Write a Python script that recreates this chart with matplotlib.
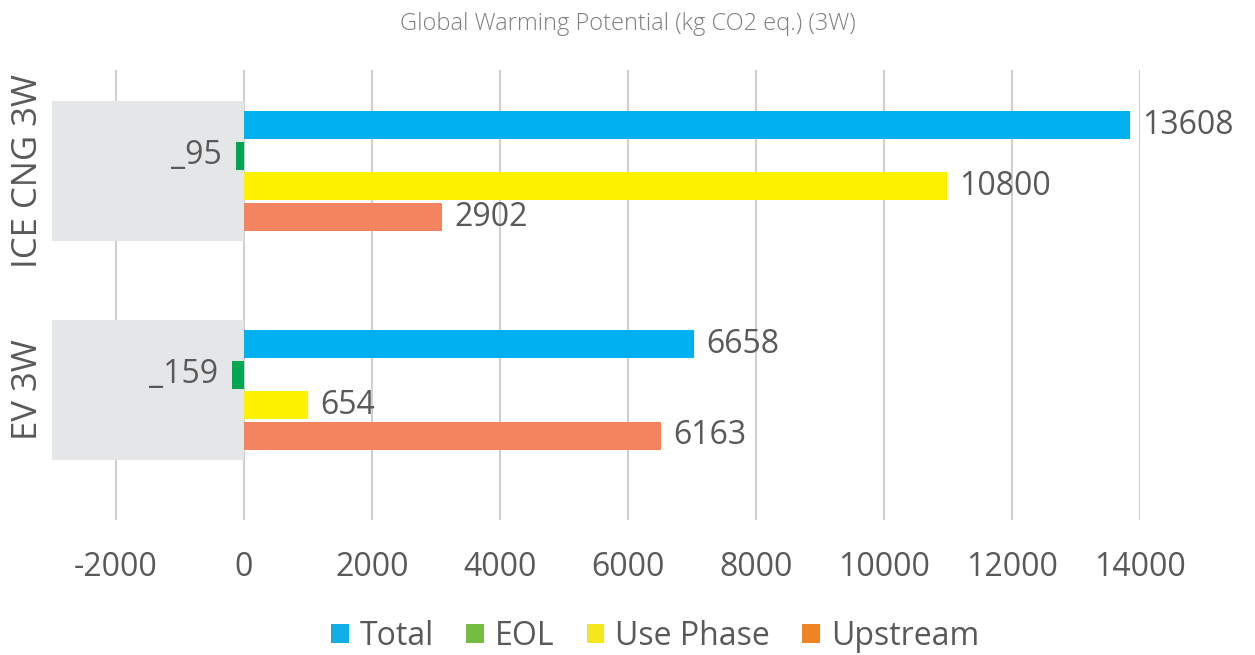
import numpy as np
import matplotlib.pyplot as plt
from matplotlib.patches import Patch

plt.rcParams['font.family'] = ['Open Sans', 'DejaVu Sans']
plt.rcParams['axes.unicode_minus'] = False

categories = ["ICE CNG 3W", "EV 3W"]
series = ["Total", "EOL", "Use Phase", "Upstream"]
# bar lengths as drawn in the picture
total = [13844, 7031]
eol = [-125, -187]
use_phase = [10984, 1000]
upstream = [3094, 6516]
# data labels as printed
total_lbl = ["13608", "6658"]
eol_lbl = ["_95", "_159"]
use_lbl = ["10800", "654"]
up_lbl = ["2902", "6163"]

bar_colors = ["#00B0F0", "#00A651", "#FFF200", "#F4845F"]
legend_colors = ["#10ADE6", "#74BC42", "#F2E81A", "#EE8422"]
txt = "#595959"

fig = plt.figure(figsize=(12.55, 6.55), dpi=100)
ax = fig.add_axes([0.0414, 0.206, 0.8669, 0.687])

y = np.arange(len(categories))
step = 0.14
h = 0.128

# grey band behind the category area
ax.barh(y, 3000, left=-3000, height=0.64, color="#E5E6E8", zorder=1)

vals = [total, eol, use_phase, upstream]
lbls = [total_lbl, eol_lbl, use_lbl, up_lbl]
for i, (v, l) in enumerate(zip(vals, lbls)):
    pos = y + (i - 1.5) * step
    ax.barh(pos, v, height=h, color=bar_colors[i], zorder=3)
    for p, val, s in zip(pos, v, l):
        if val < 0:
            ax.annotate(s, (val, p), xytext=(-10, 0), textcoords="offset points",
                        ha="right", va="center", fontsize=23, color=txt, zorder=4)
        else:
            ax.annotate(s, (val, p), xytext=(9, 0), textcoords="offset points",
                        ha="left", va="center", fontsize=23, color=txt, zorder=4)

ax.set_xlim(-3000, 14000)
ax.set_ylim(1.594, -0.461)
ax.set_xticks(np.arange(-2000, 14001, 2000))
ax.xaxis.grid(True, color="#D0D0D0", linewidth=1.5, zorder=0)
ax.set_axisbelow(True)
ax.set_yticks(y)
ax.set_yticklabels(categories, rotation=90, va="center", fontsize=25, color=txt)
ax.tick_params(axis="x", length=0, labelsize=23, labelcolor=txt, pad=22)
ax.tick_params(axis="y", length=0, pad=5)
for sp in ax.spines.values():
    sp.set_visible(False)

fig.suptitle("Global Warming Potential (kg CO2 eq.) (3W)", y=0.982, fontsize=17,
             color="#7F7F7F", fontweight="light")

handles = [Patch(facecolor=c, label=s) for c, s in zip(legend_colors, series)]
fig.legend(handles=handles, loc="center", bbox_to_anchor=(0.522, 0.029), ncol=4,
           frameon=False, fontsize=23, handlelength=0.55, handleheight=0.55,
           handletextpad=0.35, columnspacing=1.0, labelcolor=txt)

fig.savefig("out.png", dpi=100)
